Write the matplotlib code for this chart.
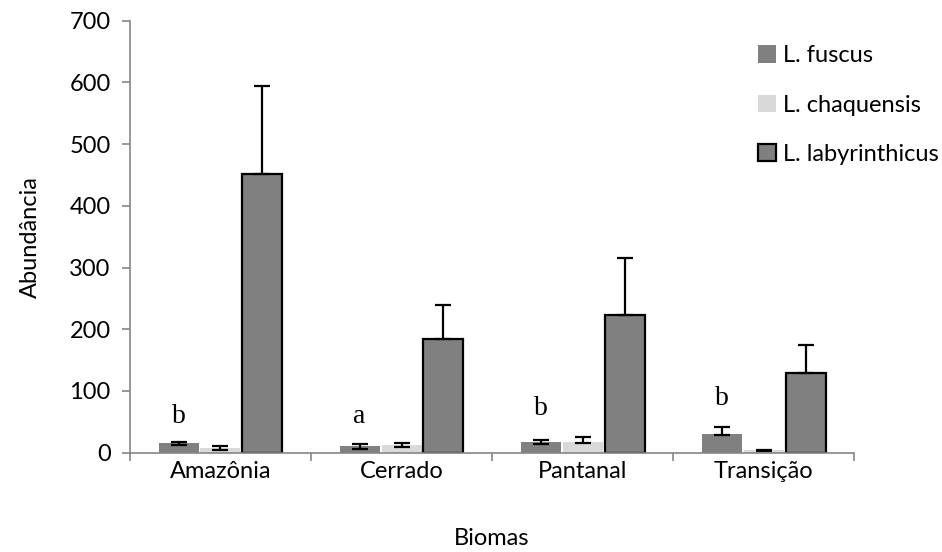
import matplotlib
matplotlib.use("Agg")
import matplotlib.pyplot as plt
import numpy as np

plt.rcParams['font.family'] = ['Lato', 'DejaVu Sans']

biomas = ["Amazônia", "Cerrado", "Pantanal", "Transição"]
especies = ["L. fuscus", "L. chaquensis", "L. labyrinthicus"]

fuscus = [15, 10, 17, 30]
fuscus_lo = [3, 4, 3, 1]
fuscus_hi = [3, 4, 3, 12]

chaquensis = [8, 12, 17, 4]
chaq_lo = [3, 3, 2, 1]
chaq_hi = [3, 3, 8, 1]

labyrinthicus = [452, 184, 223, 129]
laby_lo = [0, 0, 0, 0]
laby_hi = [142, 55, 93, 46]

letras = ["b", "a", "b", "b"]
letras_y = [48, 48, 61, 77]

fig = plt.figure(figsize=(9.42, 5.52), dpi=100)
ax = fig.add_axes([0.138, 0.18, 0.7686, 0.7825])

x = np.arange(len(biomas))
w = 0.221
d = 0.232
ekw = dict(ecolor="black", elinewidth=1.6, capsize=5.5, capthick=1.6)

ax.bar(x - d, fuscus, w, color="#808080", label=especies[0],
       yerr=[fuscus_lo, fuscus_hi], error_kw=ekw)
ax.bar(x, chaquensis, w, color="#d9d9d9", label=especies[1],
       yerr=[chaq_lo, chaq_hi], error_kw=ekw)
ax.bar(x + d, labyrinthicus, w, color="#808080", edgecolor="black",
       linewidth=1.6, label=especies[2],
       yerr=[laby_lo, laby_hi], error_kw=ekw)

for i in range(len(biomas)):
    ax.text(x[i] - d, letras_y[i], letras[i], ha="center", va="baseline",
            fontsize=20, family="Liberation Serif")

ax.set_xlim(-0.5, 3.5)
ax.set_ylim(0, 700)
ax.set_yticks(np.arange(0, 701, 100))
ax.set_xticks(x)
ax.set_xticklabels(biomas)
ax.set_xticks(np.arange(-0.5, 3.6, 1), minor=True)
ax.tick_params(axis="x", which="major", length=0, pad=6, labelsize=17)
ax.tick_params(axis="x", which="minor", length=6, color="#868686", width=1.2)
ax.tick_params(axis="y", length=6, color="#868686", width=1.2, labelsize=17, pad=8)

for s in ["top", "right"]:
    ax.spines[s].set_visible(False)
for s in ["left", "bottom"]:
    ax.spines[s].set_color("#868686")
    ax.spines[s].set_linewidth(1.2)

ax.set_xlabel("Biomas", fontsize=17, labelpad=33)
ax.set_ylabel("Abundância", fontsize=17, labelpad=20)

ax.legend(loc="upper left", bbox_to_anchor=(0.855, 0.965), frameon=False,
          fontsize=17, handlelength=0.75, handleheight=0.75,
          handletextpad=0.3, labelspacing=1.2, borderaxespad=0)

fig.savefig("out.png", dpi=100)
